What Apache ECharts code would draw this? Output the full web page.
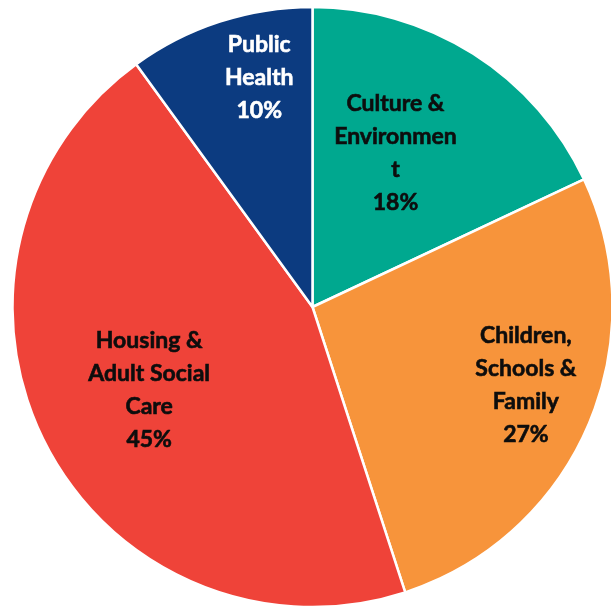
<!DOCTYPE html>
<html>
<head>
<meta charset="utf-8">
<script src="https://cdn.jsdelivr.net/npm/echarts@6/dist/echarts.min.js"></script>
<style>
  html, body { margin: 0; padding: 0; background: #ffffff; }
  #chart { width: 611px; height: 608px; }
</style>
</head>
<body>
<div id="chart"></div>
<script>
// Budget share by directorate, clockwise from 12 o'clock
const categories = [
  'Culture &\nEnvironmen\nt',
  'Children,\nSchools &\nFamily',
  'Housing &\nAdult Social\nCare',
  'Public\nHealth'
];
const shares = [18, 27, 45, 10];
const sliceColors = ['#00A88F', '#F7943B', '#EF4339', '#0C3B80'];
const labelColors = ['#0d0d0d', '#0d0d0d', '#0d0d0d', '#ffffff'];
const labelOffsets = [[1, -25], [73, 17], [-27, 14], [-6, -84]];

const data = categories.map((name, i) => ({
  name: name,
  value: shares[i],
  itemStyle: { color: sliceColors[i] },
  label: {
    color: labelColors[i],
    textBorderColor: labelColors[i],
    textBorderWidth: 0.6,
    offset: labelOffsets[i]
  }
}));

const chart = echarts.init(document.getElementById('chart'), null, { renderer: 'canvas' });
chart.setOption({
  animation: false,
  backgroundColor: '#ffffff',
  series: [{
    type: 'pie',
    center: [312.5, 307],
    radius: [0, 300],
    startAngle: 90,
    clockwise: true,
    avoidLabelOverlap: false,
    itemStyle: { borderColor: '#ffffff', borderWidth: 2.5 },
    label: {
      show: true,
      position: 'inside',
      formatter: p => p.name + '\n' + p.value + '%',
      fontFamily: 'Lato',
      fontWeight: 'bold',
      fontSize: 23,
      lineHeight: 33,
      align: 'center'
    },
    labelLine: { show: false },
    emphasis: { disabled: true },
    data: data
  }]
});
</script>
</body>
</html>
